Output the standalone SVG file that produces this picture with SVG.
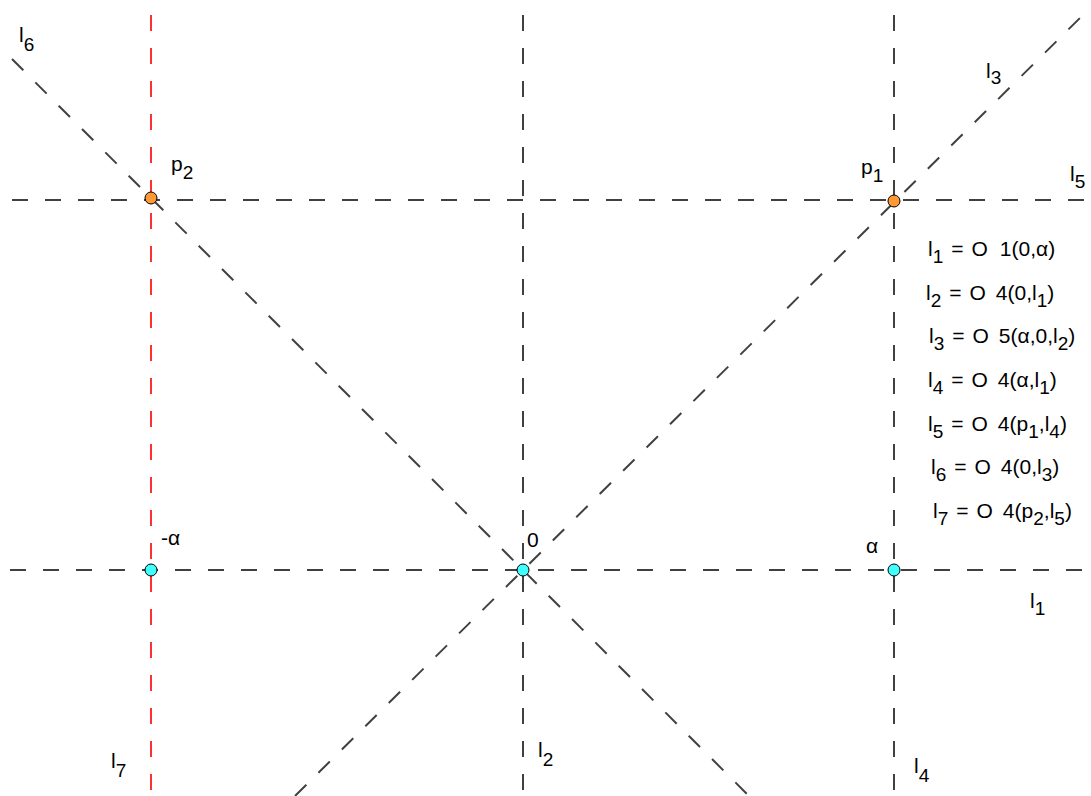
<svg xmlns="http://www.w3.org/2000/svg" width="1091" height="796" viewBox="0 0 1091 796">
<style>
.ln{stroke:#404040;stroke-width:2;stroke-dasharray:16 17;fill:none}
.red{stroke:#ff3030;stroke-width:2;stroke-dasharray:16 17;fill:none}
text{font-family:"Liberation Sans",Arial,sans-serif;font-size:21px;fill:#000}
.s{font-size:19px}
.cy{fill:#40ffff;stroke:#000;stroke-width:1}
.or{fill:#ff9933;stroke:#000;stroke-width:1}
</style>
<rect width="1091" height="796" fill="#fff"/>
<g id="connectors">
<line id="l1" class="ln" x1="10" y1="570" x2="1085" y2="570"/>
<line id="l5" class="ln" x1="12" y1="200" x2="1085" y2="200"/>
<line id="l2" class="ln" x1="523" y1="15" x2="523" y2="796"/>
<line id="l4" class="ln" x1="894" y1="15" x2="894" y2="796"/>
<line id="l3" class="ln" x1="295" y1="796" x2="1083" y2="15"/>
<line id="l6" class="ln" x1="12" y1="59" x2="749" y2="796"/>
<line id="l7" class="red" x1="151" y1="15" x2="151" y2="796"/>
</g>
<g id="line-labels">
<text x="19" y="42">l<tspan class="s" dy="9">6</tspan></text>
<text x="986" y="78">l<tspan class="s" dy="6">3</tspan></text>
<text x="1070" y="181">l<tspan class="s" dy="7">5</tspan></text>
<text x="1030" y="608">l<tspan class="s" dy="7">1</tspan></text>
<text x="111" y="768">l<tspan class="s" dy="9">7</tspan></text>
<text x="538" y="757">l<tspan class="s" dy="9">2</tspan></text>
<text x="914" y="773">l<tspan class="s" dy="9">4</tspan></text>
</g>
<g id="node-p2"><circle class="or" cx="151" cy="198" r="6"/><text x="171" y="171">p<tspan class="s" dy="8">2</tspan></text></g>
<g id="node-p1"><circle class="or" cx="894" cy="201" r="6"/><text x="861" y="174">p<tspan class="s" dy="8">1</tspan></text></g>
<g id="node-neg-alpha"><circle class="cy" cx="151" cy="570" r="6"/><text x="161" y="545">-α</text></g>
<g id="node-0"><circle class="cy" cx="523" cy="570" r="6"/><text x="527" y="547">0</text></g>
<g id="node-alpha"><circle class="cy" cx="894" cy="570" r="6"/><text x="866" y="553">α</text></g>
<g id="definitions">
<text x="928" y="256">l<tspan class="s" dy="7">1</tspan><tspan dy="-7" dx="8">=</tspan><tspan dx="8">O</tspan><tspan dx="12">1(0,α)</tspan></text>
<text x="926" y="300">l<tspan class="s" dy="7">2</tspan><tspan dy="-7" dx="8">=</tspan><tspan dx="8">O</tspan><tspan dx="10">4(0,l</tspan><tspan class="s" dy="7">1</tspan><tspan dy="-7">)</tspan></text>
<text x="929" y="343">l<tspan class="s" dy="7">3</tspan><tspan dy="-7" dx="8">=</tspan><tspan dx="8">O</tspan><tspan dx="10">5(α,0,l</tspan><tspan class="s" dy="7">2</tspan><tspan dy="-7">)</tspan></text>
<text x="928" y="387">l<tspan class="s" dy="7">4</tspan><tspan dy="-7" dx="8">=</tspan><tspan dx="8">O</tspan><tspan dx="10">4(α,l</tspan><tspan class="s" dy="7">1</tspan><tspan dy="-7">)</tspan></text>
<text x="928" y="431">l<tspan class="s" dy="7">5</tspan><tspan dy="-7" dx="8">=</tspan><tspan dx="8">O</tspan><tspan dx="10">4(p</tspan><tspan class="s" dy="7">1</tspan><tspan dy="-7">,l</tspan><tspan class="s" dy="7">4</tspan><tspan dy="-7">)</tspan></text>
<text x="931" y="474">l<tspan class="s" dy="7">6</tspan><tspan dy="-7" dx="8">=</tspan><tspan dx="8">O</tspan><tspan dx="10">4(0,l</tspan><tspan class="s" dy="7">3</tspan><tspan dy="-7">)</tspan></text>
<text x="933" y="518">l<tspan class="s" dy="7">7</tspan><tspan dy="-7" dx="8">=</tspan><tspan dx="8">O</tspan><tspan dx="10">4(p</tspan><tspan class="s" dy="7">2</tspan><tspan dy="-7">,l</tspan><tspan class="s" dy="7">5</tspan><tspan dy="-7">)</tspan></text>
</g>
</svg>
